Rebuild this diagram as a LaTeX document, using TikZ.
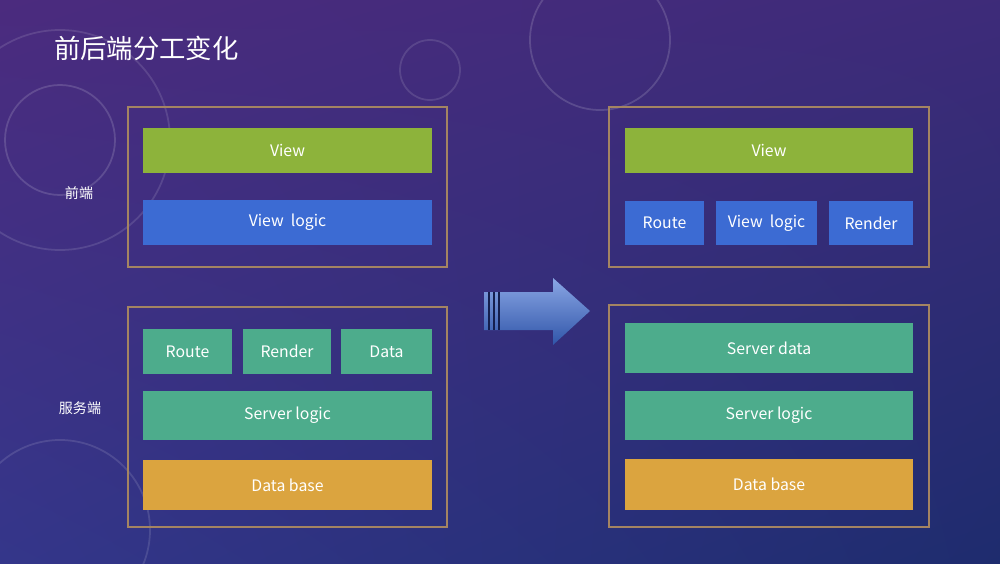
\documentclass[tikz,border=0pt]{standalone}
\usepackage{fontspec}
\setmainfont{Noto Sans CJK SC}
\usetikzlibrary{shapes,arrows,shadings}
\definecolor{bgpurple}{HTML}{4B2B7E}
\definecolor{bgblue}{HTML}{1E2C6E}
\definecolor{bgmid}{HTML}{34368A}
\definecolor{frameline}{HTML}{A48462}
\definecolor{viewgreen}{HTML}{8DB33B}
\definecolor{logicblue}{HTML}{3C6BD3}
\definecolor{serverteal}{HTML}{4DAC8C}
\definecolor{baseorange}{HTML}{DBA43F}
\tikzstyle{frame} = [rectangle, draw=frameline, line width=0.8pt]
\tikzstyle{block} = [rectangle, text=white, font=\fontsize{9}{11}\selectfont, inner sep=0pt]
\tikzstyle{side} = [text=white, font=\fontsize{8}{10}\selectfont]

\begin{document}
\begin{tikzpicture}[x=0.02cm, y=-0.02cm]
\useasboundingbox (0,0) rectangle (1000,564);
\shade [upper left=bgpurple, upper right=bgpurple!70!bgblue, lower left=bgmid, lower right=bgblue] (0,0) rectangle (1000,564);

% faint background rings
\draw [white, opacity=0.15, line width=1pt] (60,140) circle (55);
\draw [white, opacity=0.12, line width=1pt] (60,140) circle (110);
\draw [white, opacity=0.12, line width=1pt] (430,70) circle (30);
\draw [white, opacity=0.15, line width=1pt] (600,40) circle (70);
\draw [white, opacity=0.12, line width=1pt] (60,530) circle (90);

\node [anchor=west, text=white, font=\fontsize{15}{18}\selectfont] (title) at (48,48) {前后端分工变化};

% left side
\node [frame, minimum width=6.38cm, minimum height=3.2cm] (lfront) at (287.5,187) {};
\node [frame, minimum width=6.38cm, minimum height=4.4cm] (lback) at (287.5,417) {};
\node [side] (lbl1) at (79,193) {前端};
\node [side] (lbl2) at (80,408) {服务端};

\node [block, fill=viewgreen, minimum width=5.78cm, minimum height=0.9cm] (lview) at (287.5,150.5) {View};
\node [block, fill=logicblue, minimum width=5.78cm, minimum height=0.9cm] (llogic) at (287.5,222.5) {View\ \ logic};

\node [block, fill=serverteal, minimum width=1.78cm, minimum height=0.9cm] (lroute) at (187.5,351.5) {Route};
\node [block, fill=serverteal, minimum width=1.76cm, minimum height=0.9cm] (lrender) at (287,351.5) {Render};
\node [block, fill=serverteal, minimum width=1.82cm, minimum height=0.9cm] (ldata) at (386.5,351.5) {Data};
\node [block, fill=serverteal, minimum width=5.78cm, minimum height=0.98cm] (lserver) at (287.5,415.5) {Server logic};
\node [block, fill=baseorange, minimum width=5.78cm, minimum height=1.0cm] (lbase) at (287.5,485) {Data base};

% arrow
\shade [top color=logicblue!60!white, bottom color=logicblue!80!black]
  (484,292) -- (553,292) -- (553,278) -- (590,311) -- (553,345) -- (553,330) -- (484,330) -- cycle;
\foreach \x in {489,494,499}
  \draw [bgblue!70!black, line width=0.8pt] (\x,292) -- (\x,330);

% right side
\node [frame, minimum width=6.4cm, minimum height=3.2cm] (rfront) at (769,187) {};
\node [frame, minimum width=6.4cm, minimum height=4.44cm] (rback) at (769,416) {};

\node [block, fill=viewgreen, minimum width=5.76cm, minimum height=0.9cm] (rview) at (769,150.5) {View};
\node [block, fill=logicblue, minimum width=1.58cm, minimum height=0.88cm] (rroute) at (664.5,223) {Route};
\node [block, fill=logicblue, minimum width=2.02cm, minimum height=0.88cm] (rlogic) at (766.5,223) {View\ \ logic};
\node [block, fill=logicblue, minimum width=1.68cm, minimum height=0.88cm] (rrender) at (871,223) {Render};

\node [block, fill=serverteal, minimum width=5.76cm, minimum height=1.0cm] (rdata) at (769,348) {Server data};
\node [block, fill=serverteal, minimum width=5.76cm, minimum height=0.98cm] (rserver) at (769,415.5) {Server logic};
\node [block, fill=baseorange, minimum width=5.76cm, minimum height=1.02cm] (rbase) at (769,484.5) {Data base};
\end{tikzpicture}
\end{document}
